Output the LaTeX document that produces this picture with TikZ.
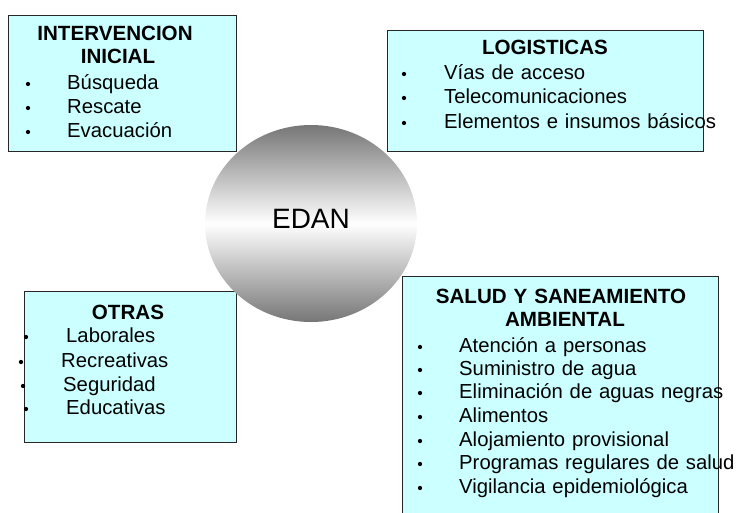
\documentclass[tikz,border=0pt]{standalone}
\usepackage{fontspec}
\setmainfont{Liberation Sans}[WordSpace=1.2]
\usepackage{xcolor}
\usepackage{tikz}
\usetikzlibrary{shapes.geometric}
\definecolor{boxcyan}{RGB}{204,255,255}
\definecolor{edangray}{RGB}{118,118,118}

\begin{document}
\begin{tikzpicture}[x=1pt, y=-1pt,
    box/.style={draw=black!85, line width=1.2pt, fill=boxcyan, anchor=north west, inner sep=0pt},
    head/.style={anchor=base, inner sep=0pt, font=\fontsize{20.6}{23}\selectfont\bfseries},
    itm/.style={anchor=base west, inner sep=0pt, font=\fontsize{20.3}{23}\selectfont},
    bul/.style={circle, fill=black, inner sep=0pt, minimum size=4.3pt}]
    \useasboundingbox (0,0) rectangle (738,512);

    % the four boxes
    \node [box, minimum width=228pt, minimum height=136pt] (II) at (8,15) {};
    \node [box, minimum width=316pt, minimum height=121pt] (LOG) at (387,30) {};
    \node [box, minimum width=212pt, minimum height=151pt] (OT) at (24,291) {};
    \node [box, minimum width=316pt, minimum height=254pt] (SSA) at (402,276) {};

    % centre
    \node [ellipse, minimum width=212pt, minimum height=197pt, inner sep=0pt,
           shading=axis, top color=edangray, bottom color=edangray, middle color=white] (EDAN) at (311,223.5) {};
    \node [anchor=base, inner sep=0pt, font=\fontsize{28}{32}\selectfont] (EDANt) at (311,228) {EDAN};

    % intervencion inicial
    \node [head] (IIh1) at (115,40) {INTERVENCION};
    \node [head] (IIh2) at (118,63) {INICIAL};
    \foreach \y/\t [count=\i] in {89/Búsqueda, 113/Rescate, 137/Evacuación} {
        \node [bul] (IIb\i) at (28,\y-5) {};
        \node [itm] (II\i) at (67,\y) {\t};
    }

    % logisticas
    \node [head] (LOGh) at (545,54) {LOGISTICAS};
    \foreach \y/\t [count=\i] in {79/Vías de acceso, 103/Telecomunicaciones, 128/Elementos e insumos básicos} {
        \node [bul] (LOGb\i) at (404,\y-5) {};
        \node [itm] (LOG\i) at (444,\y) {\t};
    }

    % otras
    \node [head] (OTh) at (128,319) {OTRAS};
    \foreach \y/\bx/\tx/\t [count=\i] in {342/26/66/Laborales, 367/21/61/Recreativas, 391/23/63/Seguridad, 414/26/66/Educativas} {
        \node [bul] (OTb\i) at (\bx,\y-5) {};
        \node [itm] (OT\i) at (\tx,\y) {\t};
    }

    % salud y saneamiento
    \node [head] (SSAh1) at (561,303) {SALUD Y SANEAMIENTO};
    \node [head] (SSAh2) at (565,326) {AMBIENTAL};
    \foreach \y/\t [count=\i] in {352/Atención a personas, 375/Suministro de agua, 398/Eliminación de aguas negras,
                                  422/Alimentos, 446/Alojamiento provisional, 469/Programas regulares de salud,
                                  493/Vigilancia epidemiológica} {
        \node [bul] (SSAb\i) at (420,\y-5) {};
        \node [itm] (SSA\i) at (459,\y) {\t};
    }
\end{tikzpicture}
\end{document}
